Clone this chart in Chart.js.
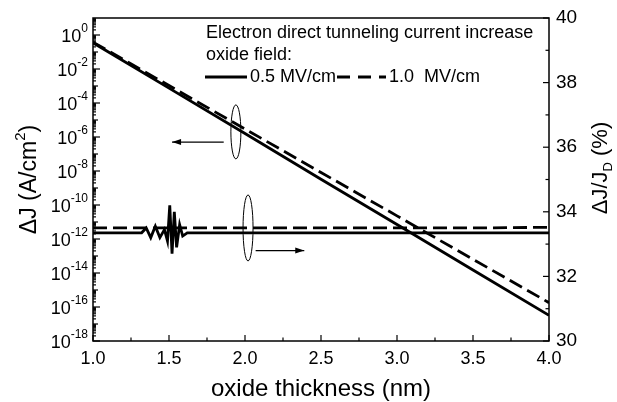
<!DOCTYPE html>
<html>
<head>
<meta charset="utf-8">
<script src="https://cdn.jsdelivr.net/npm/chart.js@4.4.1/dist/chart.umd.min.js"></script>
<style>
  html, body { margin: 0; padding: 0; background: #fff; }
  #wrap { width: 617px; height: 402px; position: relative; }
</style>
</head>
<body>
<div id="wrap"><canvas id="chart"></canvas></div>
<script>
// oxide thickness (nm) for the direct tunneling current increase curves
const thickness = [1.0, 1.5, 2.0, 2.5, 3.0, 3.5, 4.0];
const deltaJ05 = [3.5e-1, 7.5e-4, 1.6e-6, 3.3e-9, 7.1e-12, 1.5e-14, 3.2e-17];
const deltaJ10 = [3.8e-1, 1.06e-3, 2.95e-6, 8.2e-9, 2.3e-11, 6.4e-14, 1.8e-16];

// relative increase dJ/JD (%), right axis
const ratioX05 = [1.0, 1.32, 1.35, 1.38, 1.41, 1.44, 1.47, 1.49, 1.505, 1.52, 1.535, 1.55, 1.57, 1.59, 1.62, 2.0, 2.5, 3.0, 3.5, 4.0];
const ratio05 = [33.35, 33.35, 33.5, 33.2, 33.55, 33.2, 33.45, 33.1, 34.2, 32.7, 34.0, 32.9, 33.6, 33.25, 33.35, 33.35, 33.35, 33.35, 33.35, 33.35];
const ratioX10 = [1.0, 1.5, 2.0, 2.5, 3.0, 3.5, 4.0];
const ratio10 = [33.5, 33.5, 33.5, 33.5, 33.5, 33.5, 33.52];

const xTicks = [1.0, 1.5, 2.0, 2.5, 3.0, 3.5, 4.0];
const leftExponents = [0, -2, -4, -6, -8, -10, -12, -14, -16, -18];
const rightTicks = [30, 32, 34, 36, 38, 40];

const FONT = '"Liberation Sans", Arial, Helvetica, sans-serif';

function pts(xs, ys) {
  return xs.map((v, i) => ({ x: v, y: ys[i] }));
}

function drawPieces(ctx, pieces, x, y, align) {
  // pieces: [{t, size, dy}]
  let total = 0;
  pieces.forEach((p) => { ctx.font = `${p.size}px ${FONT}`; p.w = ctx.measureText(p.t).width; total += p.w; });
  let cx = align === 'center' ? x - total / 2 : align === 'right' ? x - total : x;
  ctx.textAlign = 'left';
  pieces.forEach((p) => {
    ctx.font = `${p.size}px ${FONT}`;
    ctx.fillText(p.t, cx, y + (p.dy || 0));
    cx += p.w;
  });
}

const axesPlugin = {
  id: 'axesPlugin',
  afterDraw(chart) {
    const { ctx, chartArea: a } = chart;
    const { x, y, y2 } = chart.scales;
    ctx.save();
    ctx.strokeStyle = '#000';
    ctx.fillStyle = '#000';
    ctx.lineWidth = 1.5;
    ctx.strokeRect(a.left, a.top, a.right - a.left, a.bottom - a.top);

    ctx.lineWidth = 1.2;
    // bottom ticks
    for (let v = 1.0; v <= 4.0001; v += 0.25) {
      const px = x.getPixelForValue(v);
      const major = Math.abs(v * 2 - Math.round(v * 2)) < 1e-6;
      ctx.beginPath();
      ctx.moveTo(px, a.bottom);
      ctx.lineTo(px, a.bottom - (major ? 6 : 3.5));
      ctx.stroke();
    }
    ctx.textBaseline = 'middle';
    ctx.textAlign = 'center';
    ctx.font = `18px ${FONT}`;
    xTicks.forEach((v) => ctx.fillText(v.toFixed(1), x.getPixelForValue(v), a.bottom + 18));

    // left log ticks
    for (let e = -18; e <= 0; e++) {
      for (let m = 1; m <= 9; m++) {
        const v = m * Math.pow(10, e);
        const py = y.getPixelForValue(v);
        let len = 3;
        if (m === 1) len = e % 2 === 0 ? 7 : 5;
        ctx.beginPath();
        ctx.moveTo(a.left, py);
        ctx.lineTo(a.left + len, py);
        ctx.stroke();
      }
    }
    ctx.textBaseline = 'middle';
    leftExponents.forEach((e) => {
      const py = y.getPixelForValue(Math.pow(10, e));
      drawPieces(ctx, [
        { t: '10', size: 18, dy: 2 },
        { t: String(e), size: 12, dy: -6 },
      ], a.left - 5, py, 'right');
    });

    // right ticks
    for (let v = 30; v <= 40; v++) {
      const py = y2.getPixelForValue(v);
      ctx.beginPath();
      ctx.moveTo(a.right, py);
      ctx.lineTo(a.right - (v % 2 === 0 ? 6 : 3.5), py);
      ctx.stroke();
    }
    ctx.font = `19px ${FONT}`;
    ctx.textAlign = 'left';
    rightTicks.forEach((v) => ctx.fillText(String(v), a.right + 7, y2.getPixelForValue(v)));

    // axis titles
    ctx.textBaseline = 'middle';
    ctx.font = `24px ${FONT}`;
    ctx.textAlign = 'center';
    ctx.fillText('oxide thickness (nm)', (a.left + a.right) / 2, a.bottom + 48);

    ctx.save();
    ctx.translate(30, (a.top + a.bottom) / 2);
    ctx.rotate(-Math.PI / 2);
    drawPieces(ctx, [
      { t: '\u0394J (A/cm', size: 23 },
      { t: '2', size: 15, dy: -9 },
      { t: ')', size: 23 },
    ], 0, 0, 'center');
    ctx.restore();

    ctx.save();
    ctx.translate(601, 168);
    ctx.rotate(-Math.PI / 2);
    drawPieces(ctx, [
      { t: '\u0394J/J', size: 22 },
      { t: 'D', size: 13, dy: 7 },
      { t: ' (%)', size: 22 },
    ], 0, 0, 'center');
    ctx.restore();

    // in-plot legend
    ctx.font = `18px ${FONT}`;
    ctx.textAlign = 'left';
    ctx.textBaseline = 'middle';
    ctx.fillText('Electron direct tunneling current increase', 206, 33);
    ctx.fillText('oxide field:', 206, 55);
    ctx.lineWidth = 3;
    ctx.beginPath();
    ctx.moveTo(205, 77); ctx.lineTo(247, 77);
    ctx.stroke();
    ctx.fillText('0.5 MV/cm', 250, 77);
    ctx.setLineDash([13, 8]);
    ctx.beginPath();
    ctx.moveTo(337, 77); ctx.lineTo(386, 77);
    ctx.stroke();
    ctx.setLineDash([]);
    ctx.fillText('1.0  MV/cm', 389, 77);

    // ellipses and arrows marking which axis each set belongs to
    ctx.lineWidth = 1;
    const e1x = x.getPixelForValue(1.94), e1y = y.getPixelForValue(2e-6);
    ctx.beginPath();
    ctx.ellipse(e1x, e1y, 5, 27, 0, 0, Math.PI * 2);
    ctx.stroke();
    const e2x = x.getPixelForValue(2.02), e2y = y2.getPixelForValue(33.5);
    ctx.beginPath();
    ctx.ellipse(e2x, e2y, 5, 33, 0, 0, Math.PI * 2);
    ctx.stroke();

    function arrow(x0, y0, x1, y1) {
      ctx.lineWidth = 1.2;
      ctx.beginPath();
      ctx.moveTo(x0, y0); ctx.lineTo(x1, y1);
      ctx.stroke();
      const ang = Math.atan2(y1 - y0, x1 - x0);
      ctx.beginPath();
      ctx.moveTo(x1, y1);
      ctx.lineTo(x1 - 9 * Math.cos(ang) + 3 * Math.sin(ang), y1 - 9 * Math.sin(ang) - 3 * Math.cos(ang));
      ctx.lineTo(x1 - 9 * Math.cos(ang) - 3 * Math.sin(ang), y1 - 9 * Math.sin(ang) + 3 * Math.cos(ang));
      ctx.closePath();
      ctx.fill();
    }
    const a1y = y.getPixelForValue(5e-7);
    arrow(x.getPixelForValue(1.86), a1y, x.getPixelForValue(1.52), a1y);
    const a2y = y2.getPixelForValue(32.8);
    arrow(x.getPixelForValue(2.07), a2y, x.getPixelForValue(2.39), a2y);

    ctx.restore();
  },
};

new Chart(document.getElementById('chart'), {
  type: 'line',
  data: {
    datasets: [
      { label: '0.5 MV/cm', data: pts(thickness, deltaJ05), yAxisID: 'y', borderColor: '#000', borderWidth: 2.8, pointRadius: 0, tension: 0 },
      { label: '1.0 MV/cm', data: pts(thickness, deltaJ10), yAxisID: 'y', borderColor: '#000', borderWidth: 2.8, borderDash: [14, 6], pointRadius: 0, tension: 0 },
      { label: '0.5 MV/cm ratio', data: pts(ratioX05, ratio05), yAxisID: 'y2', borderColor: '#000', borderWidth: 2.8, pointRadius: 0, tension: 0 },
      { label: '1.0 MV/cm ratio', data: pts(ratioX10, ratio10), yAxisID: 'y2', borderColor: '#000', borderWidth: 2.8, borderDash: [14, 6], pointRadius: 0, tension: 0 },
    ],
  },
  options: {
    responsive: true,
    maintainAspectRatio: false,
    animation: false,
    layout: { padding: { left: 93, right: 68, top: 18, bottom: 61 } },
    plugins: { legend: { display: false }, tooltip: { enabled: false } },
    scales: {
      x: { type: 'linear', min: 1, max: 4, display: false },
      y: { type: 'logarithmic', min: 1e-18, max: 10, display: false },
      y2: { type: 'linear', min: 30, max: 40, display: false },
    },
  },
  plugins: [axesPlugin],
});
</script>
</body>
</html>
